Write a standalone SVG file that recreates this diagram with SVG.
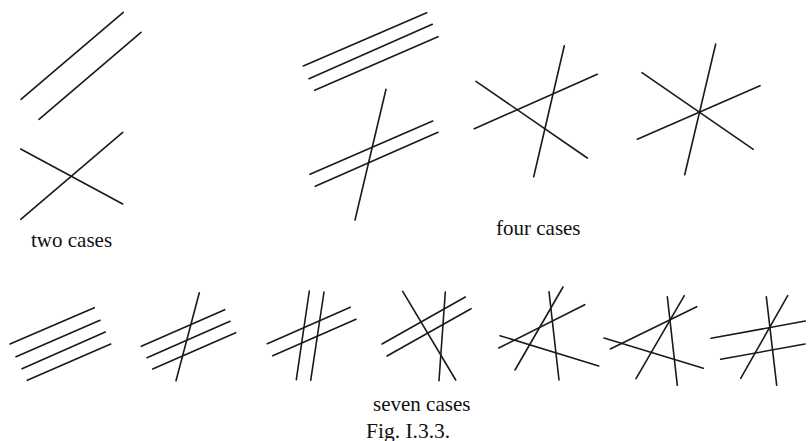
<svg xmlns="http://www.w3.org/2000/svg" width="812" height="441" viewBox="0 0 812 441">
<style>
line{stroke:#1a1a1a;stroke-width:1.6;stroke-linecap:round}
text{font-family:"Liberation Serif","Times New Roman",serif;font-size:21px;fill:#111}
</style>
<rect width="812" height="441" fill="#fff"/>
<g id="two-parallel">
<line x1="21" y1="99.3" x2="123.3" y2="12.3"/>
<line x1="39" y1="119.3" x2="141" y2="32.3"/>
</g>
<g id="two-crossing">
<line x1="20.7" y1="149" x2="122.7" y2="204"/>
<line x1="20.7" y1="219.3" x2="122.7" y2="132.3"/>
</g>
<g id="four-a">
<line x1="303.3" y1="66" x2="426.7" y2="12.7"/>
<line x1="309" y1="78.7" x2="432.3" y2="24.3"/>
<line x1="314.7" y1="90.3" x2="438" y2="36.7"/>
</g>
<g id="four-b">
<line x1="310" y1="174.3" x2="432.7" y2="121"/>
<line x1="315.3" y1="186.3" x2="438" y2="132.3"/>
<line x1="386" y1="89.3" x2="355" y2="220"/>
</g>
<g id="four-c">
<line x1="476" y1="81.3" x2="587.3" y2="158"/>
<line x1="474.3" y1="128.7" x2="597.3" y2="74.3"/>
<line x1="564.3" y1="45.7" x2="533.7" y2="176.7"/>
</g>
<g id="four-d">
<line x1="642" y1="72.7" x2="753.3" y2="149.3"/>
<line x1="637.3" y1="139.3" x2="760" y2="85.7"/>
<line x1="715.7" y1="44" x2="684.7" y2="174.7"/>
</g>
<g id="seven-1">
<line x1="10" y1="344" x2="94.3" y2="307.7"/>
<line x1="16" y1="356.7" x2="100" y2="320.3"/>
<line x1="22" y1="368.7" x2="105.3" y2="332"/>
<line x1="27.3" y1="380.3" x2="110.7" y2="344"/>
</g>
<g id="seven-2">
<line x1="141.3" y1="346.3" x2="224.7" y2="309.7"/>
<line x1="147" y1="357.7" x2="230" y2="321.3"/>
<line x1="152.7" y1="369" x2="235.7" y2="332.7"/>
<line x1="199.3" y1="292.7" x2="176" y2="380.7"/>
</g>
<g id="seven-3">
<line x1="267.3" y1="343.7" x2="350.3" y2="307.3"/>
<line x1="272.7" y1="355.7" x2="356" y2="319.3"/>
<line x1="309.3" y1="291" x2="296.3" y2="379.7"/>
<line x1="324" y1="292" x2="310.7" y2="380.3"/>
</g>
<g id="seven-4">
<line x1="382" y1="344" x2="465.3" y2="297"/>
<line x1="387" y1="356" x2="471" y2="308.7"/>
<line x1="445.3" y1="292" x2="439" y2="380.7"/>
<line x1="402.7" y1="291.3" x2="455.7" y2="380"/>
</g>
<g id="seven-5">
<line x1="498.7" y1="348" x2="584.7" y2="304.7"/>
<line x1="500" y1="335.7" x2="598.7" y2="366"/>
<line x1="515" y1="370" x2="563" y2="287"/>
<line x1="549" y1="291.7" x2="559" y2="380"/>
</g>
<g id="seven-6">
<line x1="610.3" y1="349" x2="696.7" y2="306.7"/>
<line x1="604" y1="338" x2="703.3" y2="368.3"/>
<line x1="636" y1="378.7" x2="684.3" y2="295.7"/>
<line x1="667.3" y1="296.7" x2="677.3" y2="385.3"/>
</g>
<g id="seven-7">
<line x1="711" y1="338.3" x2="805.3" y2="321"/>
<line x1="720.7" y1="359.3" x2="805" y2="344"/>
<line x1="740.7" y1="378.3" x2="787.7" y2="295.7"/>
<line x1="766.3" y1="296.7" x2="776.7" y2="385.3"/>
</g>
<text x="31" y="247">two cases</text>
<text x="496" y="235">four cases</text>
<text x="373" y="411">seven cases</text>
<text x="366" y="437.5" style="font-size:21.5px">Fig. I.3.3.</text>
</svg>
